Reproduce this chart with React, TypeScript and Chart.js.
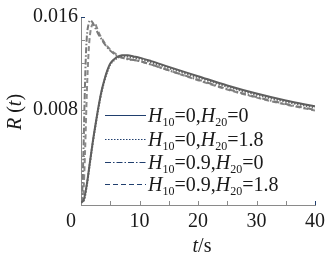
import React, { useEffect, useRef } from "react";
import { Chart, registerables } from "chart.js";
Chart.register(...registerables);

// ---- data ----
const SLOW_T = [0, 0.5, 1, 1.5, 2, 2.5, 3, 3.5, 4, 4.5, 5, 6, 7, 8, 9, 10, 12, 15, 20, 25, 30, 35, 40];
const SOLID_R = [0, 0.0003, 0.0016, 0.0034, 0.0052, 0.0068, 0.0083, 0.0096, 0.0106, 0.0114, 0.012, 0.0125, 0.0127, 0.0127, 0.0126, 0.0125, 0.0122, 0.0117, 0.0109, 0.0101, 0.0094, 0.0088, 0.0083];
const DOTTED_R = [0, 0.0002, 0.0015, 0.0033, 0.0051, 0.0067, 0.0082, 0.0095, 0.0105, 0.0113, 0.0119, 0.0124, 0.0126, 0.0126, 0.0125, 0.0124, 0.0121, 0.0116, 0.0108, 0.01, 0.0093, 0.0087, 0.0082];
const DASHDOT_T = [0, 0.2, 0.4, 0.6, 0.8, 1.0, 1.3, 1.6, 2.0, 2.5, 3, 3.5, 4, 5, 6, 7, 8, 9, 10, 12, 15, 20, 25, 30, 35, 40];
const DASHDOT_R = [0, 0.0008, 0.004, 0.0085, 0.0122, 0.0143, 0.0154, 0.0157, 0.0155, 0.015, 0.0145, 0.0141, 0.0137, 0.0131, 0.0127, 0.0125, 0.01235, 0.0123, 0.0122, 0.0119, 0.0114, 0.0106, 0.0098, 0.0091, 0.0085, 0.008];
const DASHED_T = [0, 0.4, 0.7, 1.0, 1.3, 1.6, 2.0, 2.3, 2.7, 3, 3.5, 4, 5, 6, 7, 8, 9, 10, 12, 15, 20, 25, 30, 35, 40];
const DASHED_R = [0, 0.0008, 0.0045, 0.0095, 0.013, 0.0147, 0.0154, 0.0155, 0.0151, 0.0147, 0.0142, 0.0138, 0.0132, 0.0128, 0.0125, 0.0124, 0.0123, 0.0122, 0.0119, 0.0114, 0.01055, 0.00975, 0.00905, 0.00845, 0.00795];

const H10 = ["0", "0", "0.9", "0.9"];
const H20 = ["0", "1.8", "0", "1.8"];
const X_TICK_LABELS = [0, 10, 20, 30, 40];
const Y_TICK_LABELS = [0.008, 0.016];

const SERIF = "'Liberation Serif', 'Times New Roman', Tinos, Times, 'DejaVu Serif', 'Noto Serif', serif";
const LEGEND_COLOR = "#203f6e";
const AXIS_COLOR = "#8a8a8a";
const DASHES: number[][] = [[], [1.5, 1.5], [6, 2, 1.5, 2], [5, 3]];

const pts = (t: number[], r: number[]) => t.map((x, i) => ({ x, y: r[i] }));

const drawPlugin = {
  id: "custom",
  afterDraw(chart: any) {
    const ctx = chart.ctx as CanvasRenderingContext2D;
    const x = chart.scales.x;
    const y = chart.scales.y;
    const area = chart.chartArea;
    ctx.save();
    // inward ticks
    ctx.lineWidth = 1;
    for (const t of y.ticks) {
      if (t.value < 0) continue;
      const py = Math.round(y.getPixelForValue(t.value)) + 0.5;
      ctx.strokeStyle = Math.abs(t.value - 0.016) < 1e-9 ? LEGEND_COLOR : AXIS_COLOR;
      ctx.beginPath();
      ctx.moveTo(area.left, py);
      ctx.lineTo(area.left + 4, py);
      ctx.stroke();
    }
    for (const t of x.ticks) {
      if (t.value <= 0) continue;
      const px = Math.round(x.getPixelForValue(t.value)) + 0.5;
      ctx.strokeStyle = t.value === 40 ? LEGEND_COLOR : AXIS_COLOR;
      ctx.beginPath();
      ctx.moveTo(px, area.bottom);
      ctx.lineTo(px, area.bottom - 4);
      ctx.stroke();
    }
    // legend
    const rows = [115, 139, 162, 184];
    ctx.fillStyle = "#1a1a1a";
    ctx.textBaseline = "alphabetic";
    rows.forEach((ry, i) => {
      ctx.strokeStyle = LEGEND_COLOR;
      ctx.lineWidth = 1.2;
      ctx.setLineDash(DASHES[i]);
      ctx.beginPath();
      ctx.moveTo(105, ry + 0.5);
      ctx.lineTo(146, ry + 0.5);
      ctx.stroke();
      ctx.setLineDash([]);
      let cx = 148;
      const base = ry + 7;
      const part = (s: string, font: string, dy = 0) => {
        ctx.font = font;
        ctx.fillText(s, cx, base + dy);
        cx += ctx.measureText(s).width;
      };
      part("H", `italic 20px ${SERIF}`);
      part("10", `12px ${SERIF}`, 4);
      part("=" + H10[i] + ",", `20px ${SERIF}`);
      part("H", `italic 20px ${SERIF}`);
      part("20", `12px ${SERIF}`, 4);
      part("=" + H20[i], `20px ${SERIF}`);
    });
    // axis titles
    ctx.font = `italic 20px ${SERIF}`;
    const tw = ctx.measureText("t").width;
    ctx.font = `20px ${SERIF}`;
    const sw = ctx.measureText("/s").width;
    const sx = 202 - (tw + sw) / 2;
    ctx.font = `italic 20px ${SERIF}`;
    ctx.fillText("t", sx, 252);
    ctx.font = `20px ${SERIF}`;
    ctx.fillText("/s", sx + tw, 252);

    ctx.translate(21, 112);
    ctx.rotate(-Math.PI / 2);
    const segs: [string, string][] = [["R", "italic "], [" (", ""], ["t", "italic "], [")", ""]];
    let total = 0;
    for (const [s, st] of segs) {
      ctx.font = `${st}20px ${SERIF}`;
      total += ctx.measureText(s).width;
    }
    let rx = -total / 2;
    for (const [s, st] of segs) {
      ctx.font = `${st}20px ${SERIF}`;
      ctx.fillText(s, rx, 0);
      rx += ctx.measureText(s).width;
    }
    ctx.restore();
  },
};

export default function App() {
  const ref = useRef<HTMLCanvasElement>(null);
  useEffect(() => {
    document.body.style.margin = "0";
    const chart = new Chart(ref.current!, {
      type: "line",
      data: {
        datasets: [
          { data: pts(SLOW_T, SOLID_R), borderColor: "#5e5e5e", borderWidth: 2, borderDash: DASHES[0] },
          { data: pts(SLOW_T, DOTTED_R), borderColor: "#6a6a6a", borderWidth: 2, borderDash: DASHES[1] },
          { data: pts(DASHDOT_T, DASHDOT_R), borderColor: "#7a7a7a", borderWidth: 2, borderDash: DASHES[2] },
          { data: pts(DASHED_T, DASHED_R), borderColor: "#8a8a8a", borderWidth: 2, borderDash: DASHES[3] },
        ].map((d) => ({ ...d, pointRadius: 0, cubicInterpolationMode: "monotone" as const, fill: false })),
      },
      options: {
        animation: false,
        responsive: false,
        layout: { padding: { top: 17, right: 10, left: 0, bottom: 0 } },
        plugins: { legend: { display: false }, tooltip: { enabled: false } },
        scales: {
          x: {
            type: "linear",
            min: 0,
            max: 40,
            grid: { display: false, drawTicks: false },
            border: { color: AXIS_COLOR, width: 1 },
            ticks: {
              stepSize: 5,
              autoSkip: false,
              maxRotation: 0,
              padding: 5,
              color: "#1a1a1a",
              font: { family: SERIF, size: 20 },
              callback: (v: any) => (X_TICK_LABELS.includes(Number(v)) ? (Number(v) === 0 ? "0\u2002\u2002" : String(v)) : ""),
            },
            afterFit: (s: any) => {
              s.height = 54;
            },
          },
          y: {
            type: "linear",
            min: -0.0002,
            max: 0.016,
            grid: { display: false, drawTicks: false },
            border: { color: AXIS_COLOR, width: 1 },
            ticks: {
              stepSize: 0.002,
              autoSkip: false,
              padding: 3,
              color: "#1a1a1a",
              font: { family: SERIF, size: 20 },
              callback: (v: any) => (Y_TICK_LABELS.some((t) => Math.abs(t - Number(v)) < 1e-9) ? Number(v).toFixed(3) : ""),
            },
            afterFit: (s: any) => {
              s.width = 81;
            },
          },
        },
      },
      plugins: [drawPlugin],
    });
    return () => chart.destroy();
  }, []);
  return <canvas ref={ref} width={330} height={259} style={{ display: "block" }} />;
}
